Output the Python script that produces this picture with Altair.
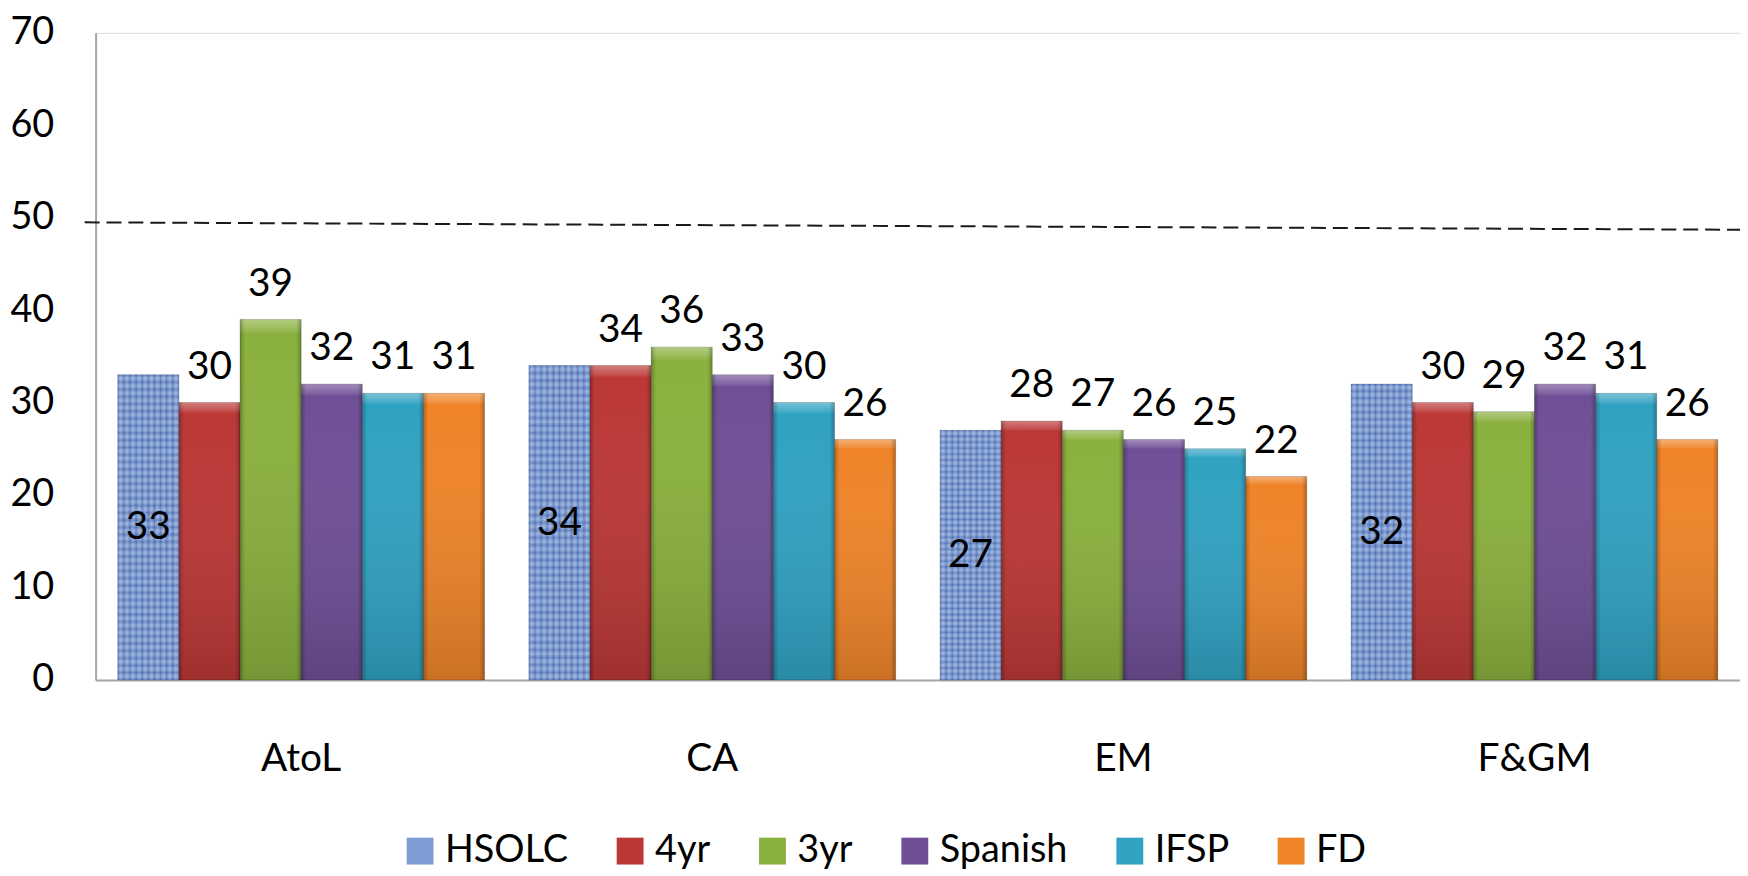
import altair as alt
import pandas as pd

categories = ["AtoL", "CA", "EM", "F&GM"]
series = ["HSOLC", "4yr", "3yr", "Spanish", "IFSP", "FD"]
values = {
    "HSOLC":   [33, 34, 27, 32],
    "4yr":     [30, 34, 28, 30],
    "3yr":     [39, 36, 27, 29],
    "Spanish": [32, 33, 26, 32],
    "IFSP":    [31, 30, 25, 31],
    "FD":      [31, 26, 22, 26],
}
colors = ["#7f9dd4", "#bb3836", "#8ab13e", "#6f4f96", "#30a2c2", "#ef8429"]
y_ticks = [0, 10, 20, 30, 40, 50, 60, 70]
threshold_start = [49.5]
threshold_end = [48.7]

rows = []
for s in series:
    for c, v in zip(categories, values[s]):
        rows.append({"category": c, "series": s, "value": v})
df = pd.DataFrame(rows)
ref_df = pd.DataFrame({"y": threshold_start, "y2": threshold_end})

FONT = "Lato"
W, H = 1652, 650

x_enc = alt.X("category:N", sort=categories,
              scale=alt.Scale(paddingInner=0.108, paddingOuter=0.054),
              axis=alt.Axis(title=None, labelAngle=0, ticks=False, labelPadding=60,
                            labelFontSize=39, labelFont=FONT, labelColor="#000000",
                            domainColor="#a6a6a6", domainWidth=2))
xo_enc = alt.XOffset("series:N", sort=series, scale=alt.Scale(paddingInner=0, paddingOuter=0))
y_enc = alt.Y("value:Q", scale=alt.Scale(domain=[0, 70], nice=False, zero=True),
              axis=alt.Axis(title=None, values=y_ticks, grid=False, ticks=False,
                            labelPadding=42, labelFontSize=38, labelFont=FONT,
                            labelColor="#000000", domainColor="#a6a6a6", domainWidth=2))

base = alt.Chart(df)

bars = base.mark_bar(stroke="#00000033", strokeWidth=1).encode(
    x=x_enc, xOffset=xo_enc, y=y_enc,
    color=alt.Color("series:N", sort=series,
                    scale=alt.Scale(domain=series, range=colors),
                    legend=alt.Legend(title=None, orient="none", direction="horizontal",
                                      legendX=307, legendY=803,
                                      symbolType="square", symbolSize=729,
                                      symbolStrokeWidth=0, labelFont=FONT,
                                      labelFontSize=38, labelColor="#000000",
                                      labelOffset=6, columnPadding=43,
                                      labelLimit=400)),
)

# woven texture for the HSOLC bars (style only)
def weave_stops(n, dark, light):
    out = []
    for i in range(n + 1):
        out.append(alt.GradientStop(color=dark if i % 2 == 0 else light, offset=i / n))
    return out

hsolc = base.transform_filter(alt.datum.series == "HSOLC")
tex_v = hsolc.mark_bar(color=alt.LinearGradient(
    gradient="linear", x1=0, x2=1, y1=0, y2=0,
    stops=weave_stops(20, "rgba(35,70,145,0.42)", "rgba(225,238,255,0.22)"))).encode(
    x=x_enc, xOffset=xo_enc, y=y_enc)
tex_h = hsolc.mark_bar(color=alt.LinearGradient(
    gradient="linear", x1=0, x2=0, y1=0, y2=1,
    stops=weave_stops(84, "rgba(35,70,145,0.28)", "rgba(225,238,255,0.18)"))).encode(
    x=x_enc, xOffset=xo_enc, y=y_enc)

others = base.transform_filter(alt.datum.series != "HSOLC")
vshade = others.mark_bar(color=alt.LinearGradient(
    gradient="linear", x1=0, x2=0, y1=0, y2=1,
    stops=[alt.GradientStop(color="rgba(255,255,255,0.35)", offset=0),
           alt.GradientStop(color="rgba(255,255,255,0.12)", offset=0.03),
           alt.GradientStop(color="rgba(255,255,255,0)", offset=0.04),
           alt.GradientStop(color="rgba(0,0,0,0.15)", offset=1)])).encode(
    x=x_enc, xOffset=xo_enc, y=y_enc)

hshade = others.mark_bar(color=alt.LinearGradient(
    gradient="linear", x1=0, x2=1, y1=0, y2=0,
    stops=[alt.GradientStop(color="rgba(0,0,0,0.25)", offset=0),
           alt.GradientStop(color="rgba(0,0,0,0)", offset=0.08),
           alt.GradientStop(color="rgba(0,0,0,0)", offset=0.92),
           alt.GradientStop(color="rgba(0,0,0,0.25)", offset=1)])).encode(
    x=x_enc, xOffset=xo_enc, y=y_enc)

top_labels = others.mark_text(
    font=FONT, fontSize=39, color="#000000", baseline="alphabetic", dy=-24).encode(
    x=x_enc, xOffset=xo_enc, y=y_enc, text="value:Q")

inner_labels = hsolc.transform_calculate(half="datum.value / 2").mark_text(
    font=FONT, fontSize=39, color="#000000", baseline="middle").encode(
    x=x_enc, xOffset=xo_enc, y=alt.Y("half:Q"), text="value:Q")

ref_line = alt.Chart(ref_df).mark_rule(color="#1a1a1a", strokeWidth=2, strokeDash=[15, 7]).encode(
    x=alt.value(-11), x2=alt.value(W), y=alt.Y("y:Q"), y2="y2:Q")

chart = alt.layer(bars, tex_v, tex_h, vshade, hshade, top_labels, inner_labels, ref_line).properties(
    width=W, height=H,
    autosize=alt.AutoSizeParams(type="none"),
    padding={"left": 88, "top": 23, "right": 0, "bottom": 189},
).configure_view(stroke=None).configure(background="white")

chart.save("out.html", embed_options={"renderer": "svg", "actions": False})
